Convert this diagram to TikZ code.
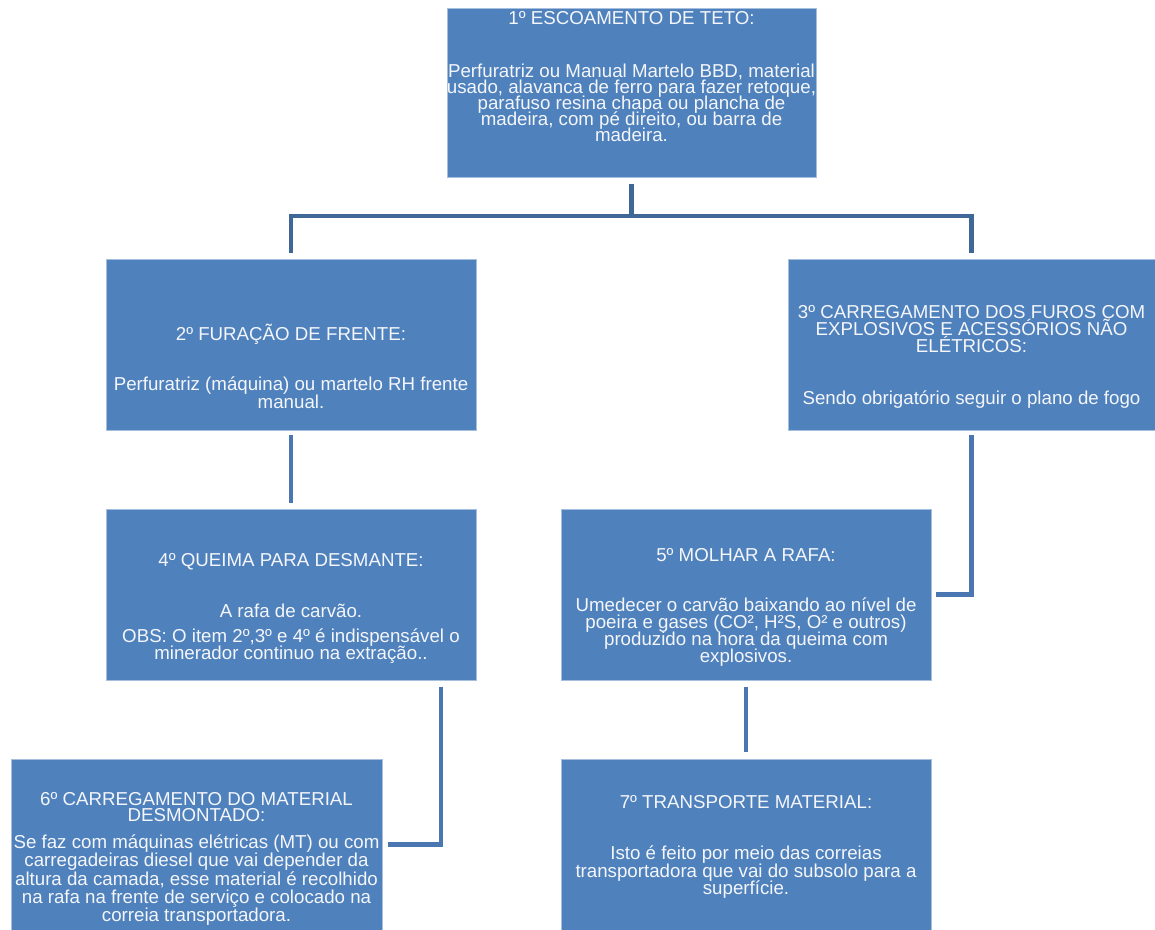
\documentclass[tikz,border=0pt]{standalone}
\usepackage{fontspec}
\setmainfont{Liberation Sans}
\definecolor{boxfill}{HTML}{4F81BD}
\definecolor{boxedge}{HTML}{A7BFDE}
\definecolor{linetop}{HTML}{3F6899}
\definecolor{linelow}{HTML}{4A77B2}
\definecolor{txt}{HTML}{F4F6FA}
\tikzset{
  stepbox/.style={draw=boxedge, line width=1pt, fill=boxfill, inner sep=0pt, outer sep=0pt,
    minimum width=#1, minimum height=171pt},
  txtnode/.style={align=center, text=txt, inner sep=0pt, anchor=base,
    font=\fontsize{18.7pt}{#1}\selectfont},
  conn/.style={line width=4.5pt, draw=linelow},
  conntop/.style={line width=4.5pt, draw=linetop}
}
\begin{document}
\lineskiplimit=-100pt
\begin{tikzpicture}[x=1pt,y=-1pt]
\useasboundingbox (0,0) rectangle (1155,929);
\clip (0,0) rectangle (1155,929);
\fill[white] (0,0) rectangle (1155,929);

% boxes
\node[stepbox=369pt, minimum height=169pt] (b1) at (631.5,92.5) {};
\node[stepbox=370pt] (b2) at (291,344.5) {};
\node[stepbox=367pt] (b3) at (971.5,344.5) {};
\node[stepbox=370pt] (b4) at (291,594.5) {};
\node[stepbox=370pt] (b5) at (746,594.5) {};
\node[stepbox=371pt] (b6) at (196.5,844.5) {};
\node[stepbox=370pt] (b7) at (746,844.5) {};

% texts (anchored at the baseline of their last line)
\node[txtnode=15.9pt] (t1) at (631.5,141.5) {1º ESCOAMENTO DE TETO:\\[37.4pt]
Perfuratriz ou Manual Martelo BBD, material\\
usado, alavanca de ferro para fazer retoque,\\
parafuso resina chapa ou plancha de\\
madeira, com pé direito, ou barra de\\
madeira.};
\node[txtnode=17.4pt] (t2) at (291,408.2) {2º FURAÇÃO DE FRENTE:\\[33pt]
Perfuratriz (máquina) ou martelo RH frente\\
manual.};
\node[txtnode=16.7pt] (t3) at (971.5,404.8) {3º CARREGAMENTO DOS FUROS COM\\
EXPLOSIVOS E ACESSÓRIOS NÃO\\
ELÉTRICOS:\\[36pt]
Sendo obrigatório seguir o plano de fogo};
\node[txtnode=17.6pt] (t4) at (291,659.8) {4º QUEIMA PARA DESMANTE:\\[33.4pt]
A rafa de carvão.\\[7pt]
OBS: O item 2º,3º e 4º é indispensável o\\
minerador continuo na extração..};
\node[txtnode=17pt] (t5) at (746,662.2) {5º MOLHAR A RAFA:\\[32.3pt]
Umedecer o carvão baixando ao nível de\\
poeira e gases (CO², H²S, O² e outros)\\
produzido na hora da queima com\\
explosivos.};
\node[txtnode=16pt] (t6) at (196.5,921.5) {6º CARREGAMENTO DO MATERIAL\\
DESMONTADO:\\[11.3pt]
Se faz com máquinas elétricas (MT) ou com\\[2.2pt]
carregadeiras diesel que vai depender da\\[2.2pt]
altura da camada, esse material é recolhido\\[2.2pt]
na rafa na frente de serviço e colocado na\\[2.2pt]
correia transportadora.};
\node[txtnode=17.7pt] (t7) at (746,894.8) {7º TRANSPORTE MATERIAL:\\[32.9pt]
Isto é feito por meio das correias\\
transportadora que vai do subsolo para a\\
superfície.};

% connectors
\coordinate (bus) at (0,216);
\draw[conntop, shorten <=7pt] (b1.south) -- (b1.south |- bus);
\draw[conntop, shorten <=6pt, shorten >=6pt] (b2.north) -- (b2.north |- bus) -- (b3.north |- bus) -- (b3.north);
\draw[conn, shorten <=5pt, shorten >=6pt] (b2.south) -- (b4.north);
\draw[conn, shorten <=5pt, shorten >=5pt] (b3.south) |- (b5.east);
\draw[conn, shorten <=7pt, shorten >=6pt] ([xshift=150pt]b4.south) |- (b6.east);
\draw[conn, shorten <=7pt, shorten >=7pt] (b5.south) -- (b7.north);
\end{tikzpicture}
\end{document}
